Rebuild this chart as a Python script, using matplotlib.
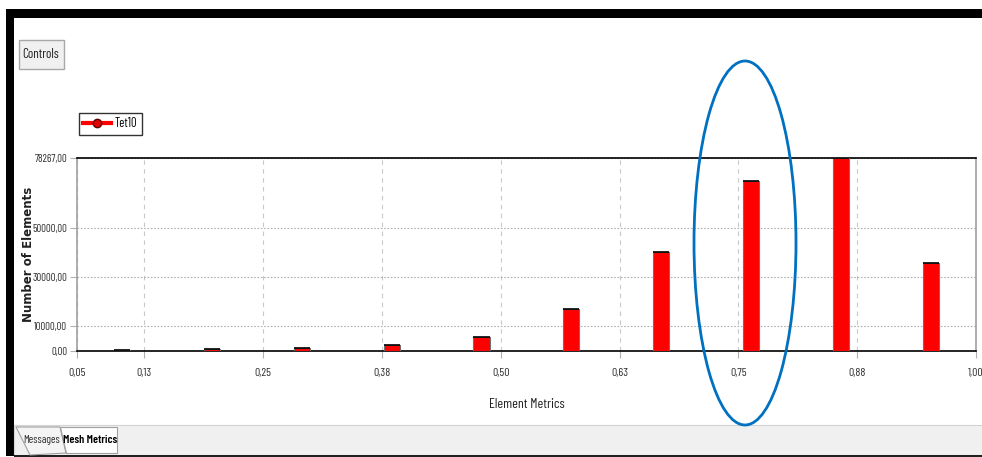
import matplotlib.pyplot as plt
from matplotlib.patches import Ellipse, Rectangle, Polygon
from matplotlib.lines import Line2D

W, H = 982, 457

# histogram data (Element Metrics vs. Number of Elements)
x_min = 0.0543
bin_centers = [0.1016, 0.1961, 0.2907, 0.3853, 0.4798, 0.5744, 0.6690, 0.7635, 0.8581, 0.9527]
counts = [500, 650, 1200, 2300, 5550, 16900, 40100, 69000, 78267, 35600]
x_ticks = [x_min, 0.125, 0.25, 0.375, 0.5, 0.625, 0.75, 0.875, 1.0]
x_labels = ['0,05', '0,13', '0,25', '0,38', '0,50', '0,63', '0,75', '0,88', '1,00']
y_ticks = [0, 10000, 30000, 50000, 78267]
y_labels = ['0,00', '10000,00', '30000,00', '50000,00', '78267,00']

narrow = ['Barlow Condensed', 'Archivo Narrow', 'Liberation Sans', 'DejaVu Sans']


def fx(px):
    return px / W


def fy(py):
    return 1 - py / H


fig = plt.figure(figsize=(W / 100, H / 100), dpi=100)
fig.patch.set_facecolor('white')

# window frame
fig.add_artist(Rectangle((fx(6), fy(18)), 1, 9 / H, transform=fig.transFigure,
                         facecolor='black', edgecolor='none'))
fig.add_artist(Rectangle((fx(6), fy(456)), 8 / W, 447 / H, transform=fig.transFigure,
                         facecolor='black', edgecolor='none'))
# bottom tab strip
fig.add_artist(Rectangle((fx(14), fy(455)), 1, 30 / H, transform=fig.transFigure,
                         facecolor='#f0f0f0', edgecolor='#d4d4d4', lw=0.8))
fig.add_artist(Rectangle((fx(14), fy(457)), 1, 2 / H, transform=fig.transFigure,
                         facecolor='#202020', edgecolor='none'))
tab1 = [(16, 427), (60, 427), (66, 453), (30, 455)]
tab2 = [(60, 427), (117, 427), (117, 453), (66, 453)]
fig.add_artist(Polygon([(fx(a), fy(b)) for a, b in tab1], closed=True, transform=fig.transFigure,
                       facecolor='#f4f4f4', edgecolor='#a0a0a0', lw=0.8))
fig.add_artist(Polygon([(fx(a), fy(b)) for a, b in tab2], closed=True, transform=fig.transFigure,
                       facecolor='white', edgecolor='#a0a0a0', lw=0.8))
fig.text(fx(42), fy(440), 'Messages', family=narrow, fontsize=8, ha='center', va='center',
         color='#303030')
fig.text(fx(90), fy(440), 'Mesh Metrics', family=narrow, fontsize=8.5, ha='center', va='center',
         color='black', fontweight='semibold')

# Controls button
fig.add_artist(Rectangle((fx(19), fy(69)), 45 / W, 29 / H, transform=fig.transFigure,
                         facecolor='#f0f0f0', edgecolor='#a8a8a8', lw=1))
fig.text(fx(41), fy(54), 'Controls', family=narrow, fontsize=9.5, ha='center', va='center',
         color='#202020')

ax = fig.add_axes([fx(77), fy(351), (976 - 77) / W, (351 - 158) / H])
ax.bar(bin_centers, counts, width=0.017, color='#ff0000', edgecolor='#707070', lw=0.8, zorder=3)
ax.hlines(counts, [c - 0.0085 for c in bin_centers], [c + 0.0085 for c in bin_centers],
          colors='black', lw=1.2, zorder=4)

ax.set_xlim(x_min, 1.0)
ax.set_ylim(0, 78267)
ax.set_xticks(x_ticks)
ax.set_xticklabels(x_labels, family=narrow, fontsize=8.5, color='#303030')
ax.set_yticks(y_ticks)
ax.set_yticklabels(y_labels, family=narrow, fontsize=7.8, color='#303030')
ax.tick_params(axis='both', length=5, color='#b0b0b0', width=0.8)
ax.tick_params(axis='x', pad=7)
ax.tick_params(axis='y', pad=2)

ax.xaxis.grid(True, ls=(0, (4, 4)), color='#c8c8c8', lw=0.8)
ax.yaxis.grid(True, ls=(0, (1.5, 1.5)), color='#b0b0b0', lw=0.8)
ax.set_axisbelow(True)

for side in ['top', 'bottom']:
    ax.spines[side].set_color('black')
    ax.spines[side].set_linewidth(1.2)
for side in ['left', 'right']:
    ax.spines[side].set_color('#a0a0a0')
    ax.spines[side].set_linewidth(1.2)

ax.set_xlabel('Element Metrics', family=narrow, fontsize=10, color='#202020', va='center')
ax.xaxis.set_label_coords((527 - 77) / (976 - 77), -(404 - 351) / 193)
ax.set_ylabel('Number of Elements', fontsize=8.5, fontweight='bold', color='#202020',
              va='center')
ax.yaxis.set_label_coords(-(77 - 29) / (976 - 77), 0.5)

handle = Line2D([], [], color='#ff0000', lw=3, marker='o', markersize=6,
                markerfacecolor='#e00000', markeredgecolor='#600000')
leg = ax.legend([handle], ['Tet10'], loc='upper left', bbox_to_anchor=(fx(79), fy(113)),
                bbox_transform=fig.transFigure, frameon=True, fancybox=False,
                prop={'family': narrow, 'size': 9}, handlelength=2.2, handletextpad=0.3,
                borderpad=0.35, borderaxespad=0)
leg.get_frame().set_edgecolor('black')
leg.get_frame().set_linewidth(1)

# blue annotation ellipse
fig.add_artist(Ellipse((fx(745), fy(243)), 102 / W, 364 / H, transform=fig.transFigure,
                       facecolor='none', edgecolor='#0070c0', lw=2))

fig.savefig('out.png', dpi=100)
